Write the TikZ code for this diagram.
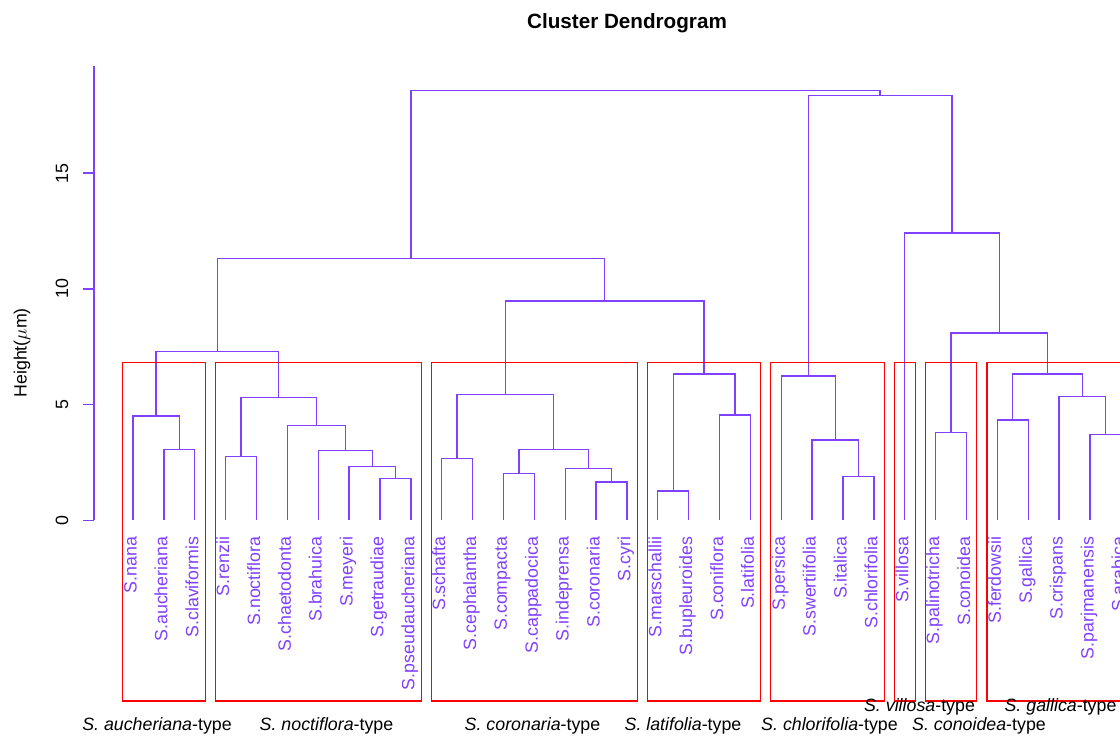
\documentclass[tikz,border=0pt]{standalone}
\usepackage{fontspec}
\setmainfont{Liberation Sans}
\usepackage{tikz}
\usetikzlibrary{calc}
\definecolor{treecol}{RGB}{128,64,255}

\begin{document}
\begin{tikzpicture}[x=0.75pt,y=17.3625pt,
  tree/.style={draw=treecol,line width=1pt},
  typebox/.style={draw=red,line width=0.8pt},
  leaf/.style={rotate=90,anchor=mid east,inner sep=0pt,text=treecol,font=\fontsize{13.35}{16}\selectfont},
  typelab/.style={anchor=base,inner sep=0pt,font=\fontsize{13.35}{16}\selectfont},
  ticklab/.style={rotate=90,anchor=base,inner sep=0pt,font=\fontsize{13.35}{16}\selectfont}]
  \useasboundingbox (0,-9.31) rectangle (1120,22.48);
  \clip (0,-9.31) rectangle (1120,22.48);

  \node[anchor=base,font=\fontsize{15.5}{18}\selectfont\bfseries] (title) at (627,21.27) {Cluster Dendrogram};

  % height axis
  \draw[tree] (94,0) -- (94,19.63);
  \foreach \t in {0,5,10,15} {
    \draw[tree] (83,\t) -- (94,\t);
    \node[ticklab] (tick\t) at (68,\t) {\t};
  }
  \node[ticklab] (ylab) at (26.5,7.24) {Height($\mu$m)};

  % leaves
  \foreach \n [count=\i] in {nana,aucheriana,claviformis,renzii,noctiflora,chaetodonta,
      brahuica,meyeri,getraudiae,pseudaucheriana,schafta,cephalantha,compacta,cappadocica,
      indeprensa,coronaria,cyri,marschallii,bupleuroides,coniflora,latifolia,persica,
      swertiifolia,italica,chlorifolia,villosa,palinotricha,conoidea,ferdowsii,gallica,
      crispans,parjmanensis,arabica} {
    \coordinate (\n) at ({133+30.87*(\i-1)},0);
    \node[leaf] (lab-\n) at ({133+30.87*(\i-1)},-0.69) {S.\n};
  }

  % merges
  \foreach \m/\x/\h in {ac/179.3/3.05, nn/156.15/4.51, rn/241.05/2.77, gp/395.4/1.82,
      mg/372.25/2.32, bm/345.2/3.02, cb/316.3/4.10, nc/278.7/5.32, an/217.4/7.29,
      sc/457.15/2.66, cp/518.85/2.02, cy/611.45/1.66, id/588.3/2.25, ci/553.6/3.05,
      co/505.4/5.43, mb/673.25/1.27, cl/734.95/4.56, la/704.1/6.33, cola/604.75/9.48,
      lt/411.1/11.30, it/858.45/1.89, sw/835.3/3.48, ch/808.3/6.24, pc/951.05/3.81,
      fg/1012.8/4.34, pa/1105.45/3.72, cr/1082.3/5.35, ga/1047.55/6.32, cg/999.3/8.09,
      vi/952.0/12.42, rt/880.15/18.35, root/645.6/18.57}
    \coordinate (\m) at (\x,\h);

  \foreach \a/\m/\b in {aucheriana/ac/claviformis, nana/nn/ac, renzii/rn/noctiflora,
      getraudiae/gp/pseudaucheriana, meyeri/mg/gp, brahuica/bm/mg, chaetodonta/cb/bm,
      rn/nc/cb, nn/an/nc, schafta/sc/cephalantha, compacta/cp/cappadocica,
      coronaria/cy/cyri, indeprensa/id/cy, cp/ci/id, sc/co/ci,
      marschallii/mb/bupleuroides, coniflora/cl/latifolia, mb/la/cl, co/cola/la,
      an/lt/cola, italica/it/chlorifolia, swertiifolia/sw/it, persica/ch/sw,
      palinotricha/pc/conoidea, ferdowsii/fg/gallica, parjmanensis/pa/arabica,
      crispans/cr/pa, fg/ga/cr, pc/cg/ga, villosa/vi/cg, ch/rt/vi, lt/root/rt}
    \draw[tree] (\a) |- (\m) -| (\b);

  % type boxes
  \foreach \a/\b in {nana/claviformis, renzii/pseudaucheriana, schafta/cyri,
      marschallii/latifolia, persica/chlorifolia, villosa/villosa,
      palinotricha/conoidea, ferdowsii/arabica}
    \draw[typebox] ($(\a)+(-10.4,6.82)$) rectangle ($(\b)+(10.4,-7.8)$);

  \node[typelab] (t-auch) at (157,-9.09) {\textit{S. aucheriana}-type};
  \node[typelab] (t-noct) at (326.5,-9.09) {\textit{S. noctiflora}-type};
  \node[typelab] (t-cor) at (532.5,-9.09) {\textit{S. coronaria}-type};
  \node[typelab] (t-lat) at (683,-9.09) {\textit{S. latifolia}-type};
  \node[typelab] (t-chl) at (829.5,-9.09) {\textit{S. chlorifolia}-type};
  \node[typelab] (t-con) at (979,-9.09) {\textit{S. conoidea}-type};
  \node[typelab] (t-vil) at (919.5,-8.27) {\textit{S. villosa}-type};
  \node[typelab] (t-gal) at (1060.5,-8.27) {\textit{S. gallica}-type};
\end{tikzpicture}
\end{document}
